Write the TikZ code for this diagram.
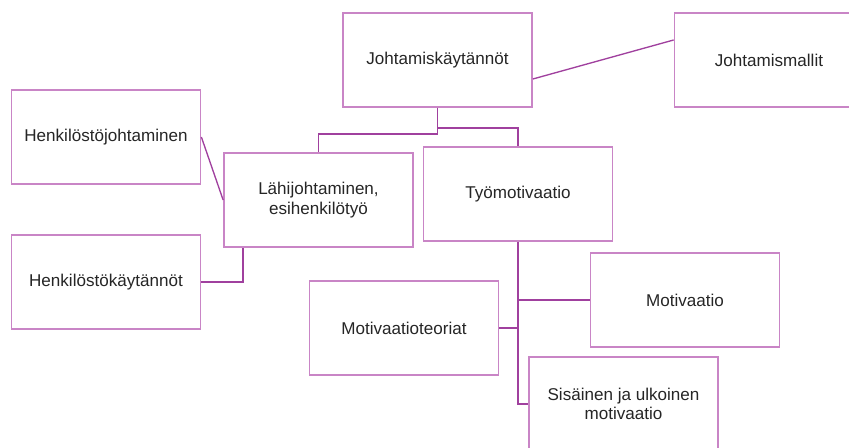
\documentclass[tikz,border=0pt]{standalone}
\usepackage{fontspec}
\setmainfont{Liberation Sans}
\usepackage{tikz}
\usetikzlibrary{positioning, calc}

\definecolor{boxline}{HTML}{C985C6}
\definecolor{linkline}{HTML}{A0409E}
\definecolor{txt}{HTML}{262626}

\begin{document}
\begin{tikzpicture}[x=0.75pt,y=-0.75pt,semithick]
	\tikzset{topic/.style={draw=boxline, line width=1.3pt, fill=white, text=txt, align=center,
		minimum width=141.75pt, minimum height=70.5pt, inner sep=0pt,
		font=\fontsize{12.8}{14.5}\selectfont},
		link/.style={draw=linkline, line width=1pt}}
	\useasboundingbox (0,0) rectangle (849,448);
	\begin{scope}
	\clip (0,0) rectangle (849,448);
	\node[topic] (jk) at (437.5,60) {Johtamiskäytännöt};
	\node[topic] (jm) at (769,60) {Johtamismallit};
	\node[topic] (hj) at (106,137) {Henkilöstöjohtaminen};
	\node[topic] (lj) at (318.5,200) {Lähijohtaminen,\\esihenkilötyö};
	\node[topic] (tm) at (518,194) {Työmotivaatio};
	\node[topic] (hk) at (106,282) {Henkilöstökäytännöt};
	\node[topic] (mt) at (404,328) {Motivaatioteoriat};
	\node[topic] (mo) at (685,300) {Motivaatio};
	\node[topic] (ss) at (623.5,404) {Sisäinen ja ulkoinen\\motivaatio};
	\path[link]
		([yshift=-14.25pt]jk.east) edge ([yshift=15pt]jm.west)
		(hj.east) edge (lj.west);
	\draw[link] (jk.south) -- ++(0,26) -| (lj.north);
	\draw[link] (jk.south) -- ++(0,20) -| (tm.north);
	\draw[link] (hk.east) -| ([xshift=15pt]lj.south west);
	\draw[link] (tm.south) |- (ss.west);
	\draw[link] (mo.west) -| (tm.south);
	\draw[link] (mt.east) -| (tm.south);
	\end{scope}
\end{tikzpicture}
\end{document}
